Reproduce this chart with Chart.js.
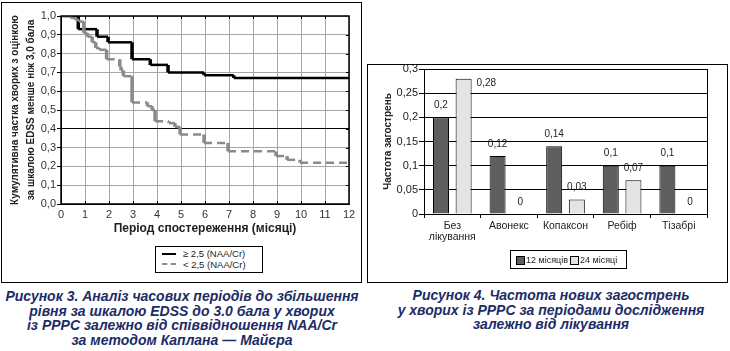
<!DOCTYPE html>
<html><head><meta charset="utf-8">
<script src="https://cdn.jsdelivr.net/npm/chart.js@4.4.0/dist/chart.umd.min.js"></script>
<style>
html,body{margin:0;padding:0;background:#fff;}
body{width:730px;height:351px;position:relative;overflow:hidden;font-family:"Liberation Sans",Arial,sans-serif;}
.box{position:absolute;border:1px solid #000;box-sizing:border-box;}
.wrap{position:absolute;}
.cap{position:absolute;text-align:center;font-weight:bold;font-style:italic;font-size:14px;line-height:14.5px;color:#1d2c66;white-space:nowrap;}
.leg{position:absolute;border:1px solid #000;box-sizing:border-box;background:#fff;font-size:9.5px;color:#222;}
.leg .it{position:absolute;white-space:nowrap;}
</style></head>
<body>
<div class="box" style="left:1px;top:2px;width:361px;height:281px;"></div>
<div class="box" style="left:367px;top:64px;width:361px;height:219px;"></div>
<div class="wrap" style="left:0;top:0;width:362px;height:282px;"><canvas id="km"></canvas></div>
<div class="wrap" style="left:368px;top:58px;width:359px;height:224px;"><canvas id="bars"></canvas></div>

<div class="leg" style="left:155px;top:246px;width:108px;height:27px;">
  <div class="it" style="left:6px;top:6px;width:14px;border-top:2px solid #000;"></div>
  <div class="it" style="left:27px;top:1px;line-height:12px;">≥ 2,5 (NAA/Cr)</div>
  <div class="it" style="left:6px;top:16px;width:14px;border-top:2px dashed #8a8a8a;"></div>
  <div class="it" style="left:27px;top:12px;line-height:12px;">&lt; 2,5 (NAA/Cr)</div>
</div>
<div class="leg" style="left:510px;top:250px;width:117px;height:19px;font-size:9px;">
  <div class="it" style="left:5px;top:5px;width:7px;height:7px;border:1px solid #000;background:#5e5e5e;"></div>
  <div class="it" style="left:15px;top:3px;line-height:12px;">12 місяців</div>
  <div class="it" style="left:59px;top:5px;width:7px;height:7px;border:1px solid #000;background:#e4e4e4;"></div>
  <div class="it" style="left:69px;top:3px;line-height:12px;">24 місяці</div>
</div>

<div class="cap" style="left:0;width:364px;top:289px;">Рисунок 3. Аналіз часових періодів до збільшення<br>рівня за шкалою EDSS до 3.0 бала у хворих<br>із РРРС залежно від співвідношення NAA/Cr<br>за методом Каплана — Майєра</div>
<div class="cap" style="left:370px;width:362px;top:288px;">Рисунок 4. Частота нових загострень<br>у хворих із РРРС за періодами дослідження<br>залежно від лікування</div>

<script>
// ---- Figure 3: Kaplan–Meier data ----
const highLabel = '≥ 2,5 (NAA/Cr)';
const highTimes = [0, 0.72, 1.5, 1.96, 2.96, 3.72, 4.46, 5.96, 7.2, 12];
const highSurv  = [1.0, 0.93, 0.89, 0.86, 0.77, 0.74, 0.70, 0.685, 0.67, 0.67];
const lowLabel = '< 2,5 (NAA/Cr)';
const lowTimes = [0, 0.4, 0.6, 0.75, 0.95, 1.1, 1.3, 1.45, 1.6, 1.9, 2.45, 2.5, 2.6, 2.96, 3.6, 3.8, 3.92, 4.5, 4.75, 4.96, 5.96, 6.96, 8.96, 9.42, 9.96, 12];
const lowSurv  = [1.0, 0.99, 0.98, 0.97, 0.91, 0.89, 0.86, 0.83, 0.82, 0.77, 0.73, 0.71, 0.68, 0.54, 0.52, 0.50, 0.44, 0.43, 0.41, 0.37, 0.325, 0.28, 0.255, 0.235, 0.22, 0.22];
const kmXTitle = 'Період спостереження (місяці)';
const kmYTitle = ['Кумулятивна частка хворих з оцінкою', 'за шкалою EDSS менше ніж 3,0 бала'];

// ---- Figure 4: relapse frequency ----
const treatments = [['Без', 'лікування'], 'Авонекс', 'Копаксон', 'Ребіф', 'Тізабрі'];
const series12Label = '12 місяців';
const series12 = [0.2, 0.12, 0.14, 0.1, 0.1];
const series24Label = '24 місяці';
const series24 = [0.28, 0, 0.03, 0.07, 0];
const barYTitle = 'Частота загострень';

Chart.defaults.font.family = '"Liberation Sans", Arial, sans-serif';
Chart.defaults.color = '#222';

function stepPoints(times, surv) {
  const pts = [{x: times[0], y: surv[0]}];
  for (let i = 1; i < times.length; i++) {
    pts.push({x: times[i], y: surv[i - 1]});
    if (surv[i] !== surv[i - 1]) pts.push({x: times[i], y: surv[i]});
  }
  return pts;
}
const isVert = ctx => Math.abs(ctx.p0.x - ctx.p1.x) < 0.5;
const fmtComma = v => String(parseFloat(Number(v).toFixed(2))).replace('.', ',');

const kmFrame = {
  id: 'kmFrame',
  afterDraw(chart) {
    const {ctx, chartArea: a, scales: {x, y}} = chart;
    ctx.save();
    ctx.strokeStyle = '#000';
    ctx.lineWidth = 1.5;
    ctx.strokeRect(a.left, a.top, a.right - a.left, a.bottom - a.top);
    ctx.lineWidth = 1;
    ctx.beginPath();
    for (let m = 1; m < 12; m++) {
      const px = Math.round(x.getPixelForValue(m)) + 0.5;
      ctx.moveTo(px, a.top); ctx.lineTo(px, a.top + 3);
      ctx.moveTo(px, a.bottom); ctx.lineTo(px, a.bottom - 3);
    }
    for (let k = 1; k < 10; k++) {
      const py = Math.round(y.getPixelForValue(k / 10)) + 0.5;
      ctx.moveTo(a.right, py); ctx.lineTo(a.right - 3, py);
    }
    ctx.stroke();
    ctx.restore();
  }
};

new Chart(document.getElementById('km'), {
  type: 'line',
  data: {
    datasets: [
      {
        label: lowLabel,
        data: stepPoints(lowTimes, lowSurv),
        borderColor: '#8a8a8a',
        borderWidth: 2.5,
        borderDash: [8, 5],
        pointRadius: 0,
        segment: {
          borderDash: ctx => isVert(ctx) ? [] : [8, 5],
          borderWidth: ctx => isVert(ctx) ? 3.5 : 2.5
        }
      },
      {
        label: highLabel,
        data: stepPoints(highTimes, highSurv),
        borderColor: '#000',
        borderWidth: 2.5,
        pointRadius: 0,
        segment: {
          borderWidth: ctx => isVert(ctx) ? 3.5 : 2.5
        }
      }
    ]
  },
  options: {
    responsive: true,
    maintainAspectRatio: false,
    animation: false,
    layout: {padding: {left: 0, top: 16, right: 13, bottom: 44}},
    plugins: {legend: {display: false}, tooltip: {enabled: false}},
    scales: {
      x: {
        type: 'linear', min: 0, max: 12,
        ticks: {stepSize: 1, font: {size: 11}, color: '#333', padding: 4},
        grid: {color: '#a6a6a6', drawTicks: false},
        border: {color: '#000'},
        title: {display: true, text: kmXTitle, font: {size: 12, weight: 'bold'}, color: '#222', padding: {top: 0, bottom: 2}},
        afterFit: s => { s.height = 34; }
      },
      y: {
        min: 0, max: 1,
        ticks: {stepSize: 0.1, font: {size: 11}, color: '#333', padding: 1,
                callback: v => Number(v).toFixed(1).replace('.', ',')},
        grid: {
          color: c => (c.tick && Math.abs(c.tick.value - 0.4) < 1e-6) ? '#000' : '#a6a6a6',
          tickColor: '#000', tickLength: 4
        },
        border: {color: '#000'},
        title: {display: true, text: kmYTitle, font: {size: 10, weight: 'bold', lineHeight: 1.6}, color: '#222', padding: {top: 7.5, bottom: 0}},
        afterFit: s => { s.width = 61; }
      }
    }
  },
  plugins: [kmFrame]
});

const barLabels = {
  id: 'barLabels',
  afterDatasetsDraw(chart) {
    const {ctx, chartArea: a} = chart;
    ctx.save();
    ctx.font = '10px "Liberation Sans", Arial, sans-serif';
    ctx.fillStyle = '#222';
    ctx.textBaseline = 'middle';
    chart.data.datasets.forEach((ds, i) => {
      chart.getDatasetMeta(i).data.forEach((bar, j) => {
        const txt = fmtComma(ds.data[j]);
        const ly = bar.y - 12;
        if (ly - 6 < a.top) {
          ctx.textAlign = 'left';
          ctx.fillText(txt, bar.x + bar.width / 2 + 5, bar.y + 5);
        } else {
          ctx.textAlign = 'center';
          ctx.fillText(txt, bar.x, ly);
        }
      });
    });
    ctx.restore();
  }
};
const barFrame = {
  id: 'barFrame',
  afterDraw(chart) {
    const {ctx, chartArea: a} = chart;
    ctx.save();
    ctx.strokeStyle = '#000';
    ctx.lineWidth = 1;
    ctx.beginPath();
    ctx.moveTo(Math.round(a.right) + 0.5, a.top);
    ctx.lineTo(Math.round(a.right) + 0.5, a.bottom);
    ctx.stroke();
    ctx.restore();
  }
};

new Chart(document.getElementById('bars'), {
  type: 'bar',
  data: {
    labels: treatments,
    datasets: [
      {label: series12Label, data: series12, backgroundColor: '#5e5e5e', borderColor: '#000', borderWidth: 1,
       categoryPercentage: 0.8, barPercentage: 0.707},
      {label: series24Label, data: series24, backgroundColor: '#e4e4e4', borderColor: '#000', borderWidth: 1,
       categoryPercentage: 0.8, barPercentage: 0.707}
    ]
  },
  options: {
    responsive: true,
    maintainAspectRatio: false,
    animation: false,
    layout: {padding: {left: 0, top: 11, right: 20, bottom: 28}},
    plugins: {legend: {display: false}, tooltip: {enabled: false}},
    scales: {
      x: {
        ticks: {font: {size: 10.5, lineHeight: 1.1}, color: '#222', padding: 2},
        grid: {drawOnChartArea: false, color: '#000', tickColor: '#000', tickLength: 4, offset: true},
        border: {color: '#000'},
        afterFit: s => { s.height = 40; }
      },
      y: {
        min: 0, max: 0.3,
        ticks: {stepSize: 0.05, font: {size: 11}, color: '#222', padding: 1, callback: v => fmtComma(v)},
        grid: {color: '#000', tickColor: '#000', tickLength: 5},
        border: {color: '#000'},
        title: {display: true, text: barYTitle, font: {size: 10, weight: 'bold'}, color: '#222', padding: {top: 14, bottom: 0}},
        afterFit: s => { s.width = 56; }
      }
    }
  },
  plugins: [barLabels, barFrame]
});
</script>
</body></html>
